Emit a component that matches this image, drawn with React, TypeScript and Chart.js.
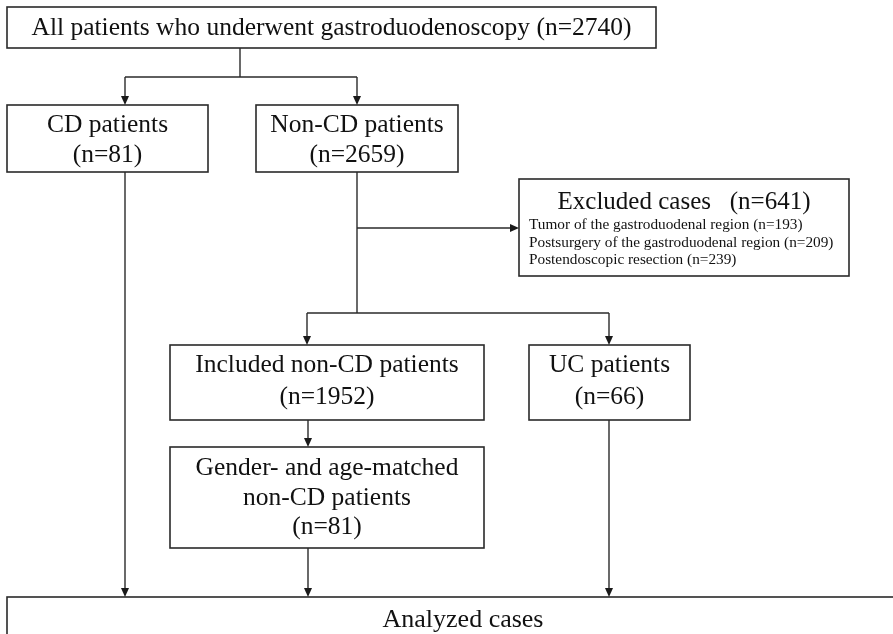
import React, { useEffect, useRef } from "react";
import { Chart, registerables } from "chart.js";

Chart.register(...registerables);

// ---- data ----
const nodeNames = [
  "All patients who underwent gastroduodenoscopy",
  "CD patients",
  "Non-CD patients",
  "Excluded cases",
  "Included non-CD patients",
  "UC patients",
  "Gender- and age-matched non-CD patients",
  "Analyzed cases",
];
const nodeCounts: (number | null)[] = [2740, 81, 2659, 641, 1952, 66, 81, null];
const exclusionReasons = [
  "Tumor of the gastroduodenal region",
  "Postsurgery of the gastroduodenal region",
  "Postendoscopic resection",
];
const exclusionCounts = [193, 209, 239];

// ---- layout (page coordinates in the flowchart's own linear scales) ----
const W = 893;
const H = 634;
const FONT = '"Liberation Serif", "Times New Roman", serif';

type Box = { x0: number; y0: number; x1: number; y1: number };
const boxes: Box[] = [
  { x0: 7, y0: 7, x1: 656, y1: 48 },
  { x0: 7, y0: 105, x1: 208, y1: 172 },
  { x0: 256, y0: 105, x1: 458, y1: 172 },
  { x0: 519, y0: 179, x1: 849, y1: 276 },
  { x0: 170, y0: 345, x1: 484, y1: 420 },
  { x0: 529, y0: 345, x1: 690, y1: 420 },
  { x0: 170, y0: 447, x1: 484, y1: 548 },
  { x0: 7, y0: 597, x1: 910, y1: 670 },
];

const nLabel = (n: number | null) => (n == null ? "" : `(n=${n})`);

// text lines per node: [text, y, size]
function nodeText(i: number): [string, number, number][] {
  const name = nodeNames[i];
  const n = nLabel(nodeCounts[i]);
  switch (i) {
    case 0:
      return [[`${name} ${n}`, 28, 25.5]];
    case 1:
    case 2:
      return [[name, 125, 25.5], [n, 155, 25.5]];
    case 3:
      return [[`${name}   ${n}`, 202, 25]];
    case 4:
    case 5:
      return [[name, 365, 25.5], [n, 397, 25.5]];
    case 6: {
      const parts = ["Gender- and age-matched", "non-CD patients"];
      return [[parts[0], 468, 25.5], [parts[1], 498, 25.5], [n, 527, 25.5]];
    }
    default:
      return [[name, 620, 26]];
  }
}

const reasonY = [225, 243, 260];

type Seg = { pts: number[][]; arrow: boolean };
const connectors: Seg[] = [
  { pts: [[240, 48], [240, 77]], arrow: false },
  { pts: [[125, 77], [357, 77]], arrow: false },
  { pts: [[125, 77], [125, 105]], arrow: true },
  { pts: [[357, 77], [357, 105]], arrow: true },
  { pts: [[125, 172], [125, 597]], arrow: true },
  { pts: [[357, 172], [357, 313]], arrow: false },
  { pts: [[357, 228], [519, 228]], arrow: true },
  { pts: [[307, 313], [609, 313]], arrow: false },
  { pts: [[307, 313], [307, 345]], arrow: true },
  { pts: [[609, 313], [609, 345]], arrow: true },
  { pts: [[308, 420], [308, 447]], arrow: true },
  { pts: [[308, 548], [308, 597]], arrow: true },
  { pts: [[609, 420], [609, 597]], arrow: true },
];

const flowPlugin = {
  id: "flow",
  beforeDatasetsDraw(chart: any) {
    const ctx: CanvasRenderingContext2D = chart.ctx;
    const sx = (v: number) => chart.scales.x.getPixelForValue(v);
    const sy = (v: number) => chart.scales.y.getPixelForValue(v);
    ctx.save();
    ctx.fillStyle = "#ffffff";
    ctx.fillRect(0, 0, chart.width, chart.height);

    // boxes
    ctx.strokeStyle = "#2a2a2a";
    ctx.lineWidth = 1.6;
    boxes.forEach((b) => {
      ctx.strokeRect(sx(b.x0), sy(b.y0), sx(b.x1) - sx(b.x0), sy(b.y1) - sy(b.y0));
    });

    // connectors
    ctx.lineWidth = 1.4;
    connectors.forEach((c) => {
      const p = c.pts.map(([x, y]) => [sx(x), sy(y)]);
      const last = p[p.length - 1];
      const prev = p[p.length - 2];
      const ang = Math.atan2(last[1] - prev[1], last[0] - prev[0]);
      const L = 9;
      const Wd = 4;
      const end = c.arrow ? [last[0] - Math.cos(ang) * (L - 1), last[1] - Math.sin(ang) * (L - 1)] : last;
      ctx.beginPath();
      ctx.moveTo(p[0][0], p[0][1]);
      for (let k = 1; k < p.length - 1; k++) ctx.lineTo(p[k][0], p[k][1]);
      ctx.lineTo(end[0], end[1]);
      ctx.stroke();
      if (c.arrow) {
        ctx.fillStyle = "#1a1a1a";
        ctx.beginPath();
        ctx.moveTo(last[0], last[1]);
        ctx.lineTo(last[0] - Math.cos(ang) * L - Math.sin(ang) * Wd, last[1] - Math.sin(ang) * L + Math.cos(ang) * Wd);
        ctx.lineTo(last[0] - Math.cos(ang) * L + Math.sin(ang) * Wd, last[1] - Math.sin(ang) * L - Math.cos(ang) * Wd);
        ctx.closePath();
        ctx.fill();
      }
    });

    // texts
    ctx.fillStyle = "#111111";
    ctx.textAlign = "center";
    ctx.textBaseline = "middle";
    boxes.forEach((b, i) => {
      const cxv = i === 7 ? 463 : (b.x0 + b.x1) / 2;
      nodeText(i).forEach(([t, y, s]) => {
        ctx.font = `${s}px ${FONT}`;
        ctx.fillText(t, sx(cxv), sy(y));
      });
    });

    // exclusion reasons
    ctx.textAlign = "left";
    ctx.font = `15.3px ${FONT}`;
    exclusionReasons.forEach((r, k) => {
      ctx.fillText(`${r} ${nLabel(exclusionCounts[k])}`, sx(529), sy(reasonY[k]));
    });
    ctx.restore();
  },
};

export default function App() {
  const ref = useRef<HTMLCanvasElement>(null);
  useEffect(() => {
    document.body.style.margin = "0";
    const chart = new Chart(ref.current!, {
      type: "scatter",
      data: { datasets: [{ data: [], pointRadius: 0 }] },
      options: {
        animation: false,
        responsive: false,
        maintainAspectRatio: false,
        layout: { padding: 0 },
        plugins: { legend: { display: false }, tooltip: { enabled: false } },
        scales: {
          x: { type: "linear", min: 0, max: W, display: false },
          y: { type: "linear", min: 0, max: H, reverse: true, display: false },
        },
      },
      plugins: [flowPlugin],
    });
    return () => chart.destroy();
  }, []);
  return (
    <div style={{ position: "absolute", left: 0, top: 0, width: W, height: H, background: "#fff" }}>
      <canvas ref={ref} width={W} height={H} style={{ width: W, height: H, display: "block" }} />
    </div>
  );
}
